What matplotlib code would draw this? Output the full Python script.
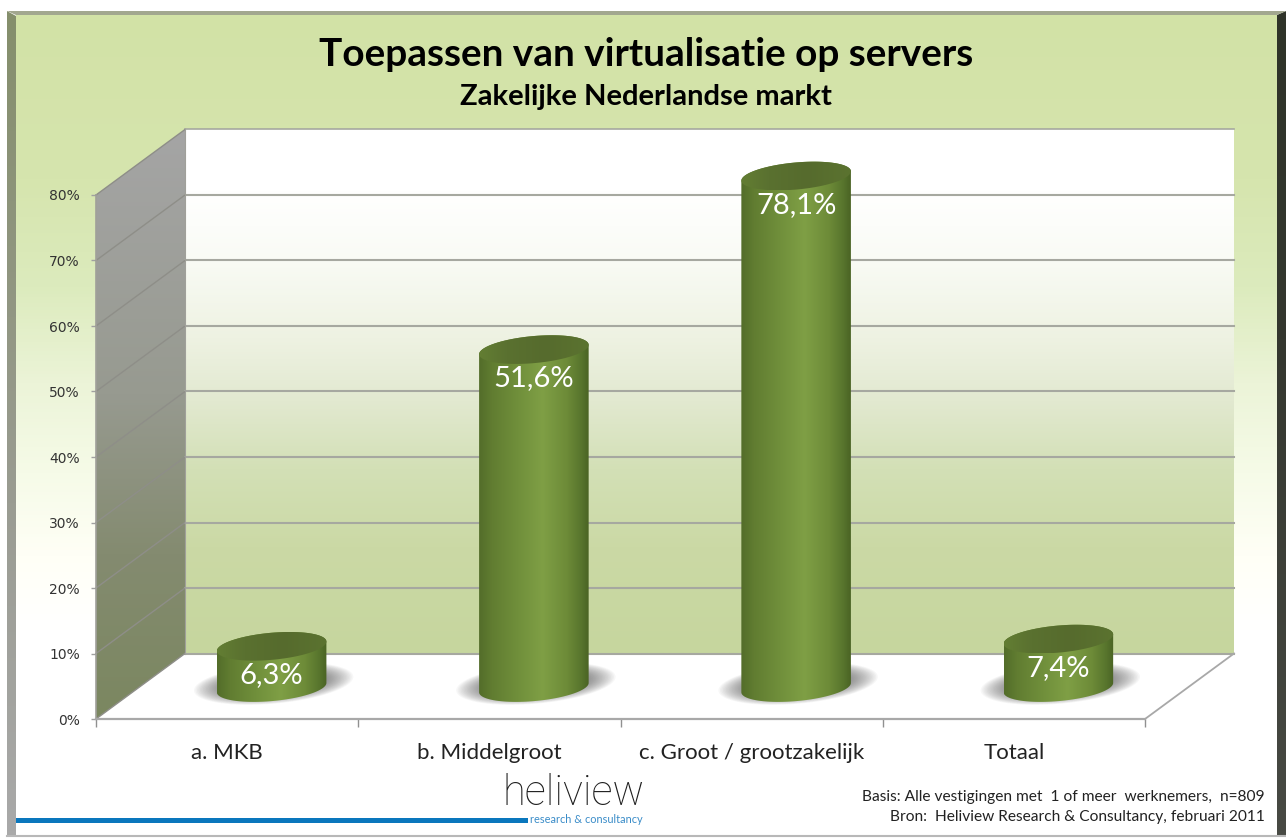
import numpy as np
import matplotlib
matplotlib.use('Agg')
import matplotlib.pyplot as plt
from matplotlib.colors import LinearSegmentedColormap
from matplotlib.patches import Polygon

# Data
categories = ['a. MKB', 'b. Middelgroot', 'c. Groot / grootzakelijk', 'Totaal']
values = [6.3, 51.6, 78.1, 7.4]
value_labels = ['6,3%', '51,6%', '78,1%', '7,4%']
y_ticks = [0, 10, 20, 30, 40, 50, 60, 70, 80]

W, H = 1286, 838
plt.rcParams['font.family'] = ['Lato', 'DejaVu Sans']
fig = plt.figure(figsize=(W / 100, H / 100), dpi=100, facecolor='white')


def cmap(stops):
    return LinearSegmentedColormap.from_list('g', stops)


def gradient(axes, poly, stops, vertical=True, z=1):
    # gradient image clipped to a polygon
    pts = np.array(poly)
    g = np.linspace(0, 1, 256)
    g = g[:, None] if vertical else g[None, :]
    im = axes.imshow(g, cmap=cmap(stops), aspect='auto', origin='upper', vmin=0, vmax=1,
                     extent=(pts[:, 0].min(), pts[:, 0].max(), pts[:, 1].min(), pts[:, 1].max()),
                     zorder=z, interpolation='bilinear')
    patch = Polygon(pts, closed=True, transform=axes.transData, fc='none', ec='none')
    axes.add_patch(patch)
    patch.set_clip_on(False)
    im.set_clip_box(fig.bbox)
    im.set_clip_path(patch)
    return im


# --- frame, in pixels (y runs downward here, so first stop = bottom of the polygon)
bg = fig.add_axes([0, 0, 1, 1], zorder=0)
bg.axis('off')
panel_stops = [(0, '#ffffff'), (0.25, '#ffffff'), (0.34, '#fffff6'), (0.44, '#f6fbe8'),
               (0.55, '#ecf4d8'), (0.67, '#dcebbd'), (0.8, '#d6e5ae'), (1, '#d2e2a6')]
gradient(bg, [(16, 836), (1277, 836), (1277, 15), (16, 15)], panel_stops, z=1)
gradient(bg, [(7, 11), (16, 16), (16, 836), (7, 836)],
         [(0, '#a9a9a9'), (0.4, '#9a9c92'), (1, '#858f6c')], z=2)
gradient(bg, [(1277, 15), (1286, 11), (1286, 836), (1277, 836)],
         [(0, '#484a44'), (0.6, '#34372f'), (1, '#2f3329')], z=2)
bg.fill([7, 1286, 1277, 16], [11, 11, 15, 15], color='#a2a78f', zorder=3, lw=0)
bg.plot([7, 1286], [836, 836], color='#b8b8b8', lw=1.5, zorder=3)
bg.fill([16, 528, 528, 16], [817.5, 817.5, 822.5, 822.5], color='#0a77bd', zorder=3, lw=0)
bg.set_xlim(0, W)
bg.set_ylim(H, 0)

# --- chart axes: front plane of the 3D box
ax = fig.add_axes([96 / W, 1 - 719 / H, 1049 / W, 524 / H], zorder=1)
ax.set_facecolor('none')
ax.set_xlim(0, 4)
ax.set_ylim(0, 80)
sx = 1049 / 4
sy = 524 / 80
dx = 89 / sx    # depth of the box
dy = 10
x_max = len(categories)
y_max = y_ticks[-1]

side = [(0, 0), (dx, dy), (dx, dy + y_max), (0, y_max)]
back = [(dx, dy), (x_max + dx, dy), (x_max + dx, dy + y_max), (dx, dy + y_max)]
floor = [(0, 0), (x_max, 0), (x_max + dx, dy), (dx, dy)]

ax.add_patch(Polygon(floor, closed=True, fc='white', ec='none', zorder=1, clip_on=False))
gradient(ax, back, [(0, '#ffffff'), (0.12, '#ffffff'), (0.25, '#f9fbf5'), (0.4, '#eef2e2'),
                    (0.52, '#e2e9d0'), (0.65, '#d3e0b6'), (0.8, '#cbd9a5'), (1, '#c6d69e')], z=1)
gradient(ax, side, [(0, '#a5a5a5'), (0.45, '#979a90'), (0.72, '#848b70'), (1, '#7b8760')], z=1)

for y in y_ticks[:-1]:
    ax.plot([dx, x_max + dx], [y + dy, y + dy], color='#a6a8a0', lw=1.5, zorder=2, clip_on=False)
ax.plot([dx, x_max + dx], [y_max + dy, y_max + dy], color='#a6a8a0', lw=1.2, zorder=2, clip_on=False)
for y in y_ticks:
    ax.plot([0, dx], [y, y + dy], color='#8e8e88', lw=1.0, zorder=2, clip_on=False)
ax.plot([dx, dx], [dy, dy + y_max], color='#a0a09a', lw=0.8, zorder=2, clip_on=False)
ax.plot([0, 0], [0, y_max], color='#a0a09a', lw=1.2, zorder=2, clip_on=False)
ax.plot([x_max, x_max + dx], [0, dy], color='#a8a8a8', lw=1.3, zorder=2, clip_on=False)

# axes ticks
for s in ['top', 'right', 'left']:
    ax.spines[s].set_visible(False)
ax.spines['bottom'].set_color('#a8a8a8')
ax.spines['bottom'].set_linewidth(1.6)
ax.set_yticks(y_ticks)
ax.set_yticklabels([str(t) + '%' for t in y_ticks], fontsize=10, color='#333333',
                   family='DejaVu Sans')
ax.tick_params(axis='y', length=3.6, width=1, color='#a0a0a0', pad=8)
ax.set_xticks(range(len(categories) + 1))
ax.set_xticklabels([])
ax.tick_params(axis='x', length=5.5, width=1, color='#909090')
for i, c in enumerate(categories):
    ax.annotate(c, (i + 0.5, 0), xytext=(0, -34), textcoords='offset pixels', ha='center', va='center',
                fontsize=16, color='#222222', annotation_clip=False)


def ellipse(cx, cy, a=55, b=14, tilt=5.2, t0=0, t1=2 * np.pi, n=90):
    # tilted ellipse; a and b in pixels, result in data units
    t = np.linspace(t0, t1, n)
    r = np.radians(tilt)
    px = a * np.cos(t) * np.cos(r) - b * np.sin(t) * np.sin(r)
    py = a * np.cos(t) * np.sin(r) + b * np.sin(t) * np.cos(r)
    return np.column_stack([cx + px / sx, cy + py / sy])


body_stops = [(0, '#536d2a'), (0.12, '#617d31'), (0.35, '#708f3b'), (0.58, '#7f9f45'),
              (0.8, '#6d8b38'), (0.93, '#58752d'), (1, '#4a6324')]
top_stops = [(0, '#637e33'), (0.25, '#5a7130'), (0.6, '#566b2d'), (1, '#5b7330')]

# --- cylinders
for i, v in enumerate(values):
    cx = i + 0.5 + dx / 2
    base = dy / 2 - 0.2
    top = base + v
    for k in range(20):
        f = 1 - k / 20
        sh = ellipse(cx + 2 / sx, base + 0.6, a=50 + 30 * f, b=11 + 9 * f)
        ax.add_patch(Polygon(sh, closed=True, fc='#505050', ec='none', alpha=0.045,
                             zorder=3, clip_on=False))
    # lower half runs along the front of the base, the top side closes the body
    lower = ellipse(cx, base, b=13.5, t0=np.pi, t1=2 * np.pi)
    upper = ellipse(cx, top, b=13.5, t0=0, t1=np.pi)
    gradient(ax, np.vstack([lower, upper]), body_stops, vertical=False, z=4)
    gradient(ax, ellipse(cx, top, b=13.5), top_stops, vertical=False, z=5)
    ax.text(cx, top - 4.4, value_labels[i], color='white', fontsize=21, ha='center', va='center',
            zorder=6, clip_on=False)

ax.set_xlim(0, 4)
ax.set_ylim(0, 80)

# --- texts
fig.text(646 / W, 1 - 54 / H, 'Toepassen van virtualisatie op servers', fontsize=27.9, fontweight='bold',
         ha='center', va='center', color='black')
fig.text(646 / W, 1 - 97 / H, 'Zakelijke Nederlandse markt', fontsize=21, fontweight='bold',
         ha='center', va='center', color='black')
fig.text(573 / W, 1 - 793 / H, 'heliview', fontsize=30, fontweight='light', family='Roboto',
         ha='center', va='center', color='#1e1e1e')
fig.text(643 / W, 1 - 819 / H, 'research & consultancy', fontsize=7.9,
         ha='right', va='center', color='#3a8cc8')
fig.text(1265 / W, 1 - 797 / H, 'Basis: Alle vestigingen met  1 of meer  werknemers,  n=809', fontsize=11.2,
         ha='right', va='center', color='#222222')
fig.text(1265 / W, 1 - 817 / H, 'Bron:  Heliview Research & Consultancy, februari 2011', fontsize=11.2,
         ha='right', va='center', color='#222222')

fig.savefig('out.png', dpi=100)
